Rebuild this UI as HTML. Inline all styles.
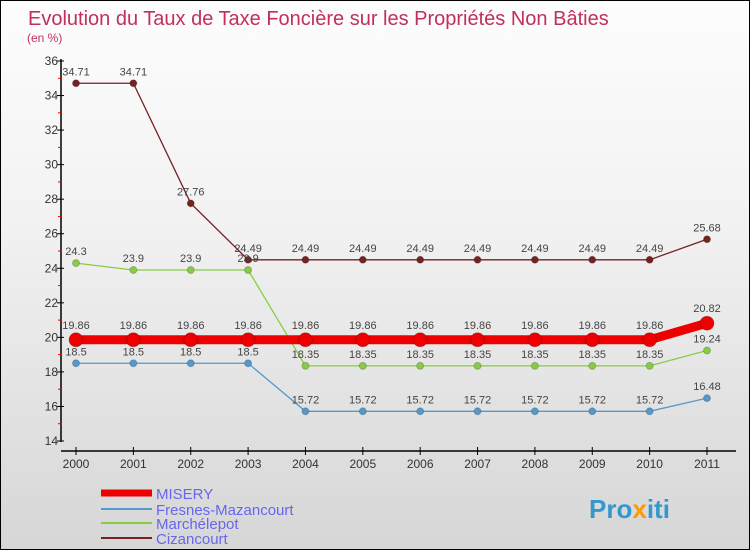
<!DOCTYPE html>
<html><head><meta charset="utf-8"><style>
body{margin:0}
#c{position:relative;width:748px;height:548px;border:1px solid #000;background:linear-gradient(#fdfdfd,#f2f2f2 40%,#d6d6d6);font-family:"Liberation Sans",sans-serif;overflow:hidden}
svg{position:absolute;left:0;top:0}
</style></head><body>
<div id="c">
<svg id="s" width="748" height="548">
<text x="27" y="24" font-size="20" fill="#c0305a">Evolution du Taux de Taxe Foncière sur les Propriétés Non Bâties</text>
<text x="26" y="41" font-size="12" fill="#c0305a">(en %)</text>
<text x="588" y="517" font-size="26" font-weight="bold" fill="#3399cc">Pro<tspan fill="#ff9900">x</tspan>iti</text>
</svg>
</div>
<script>
const years=[2000,2001,2002,2003,2004,2005,2006,2007,2008,2009,2010,2011];
const yTicks=[14,16,18,20,22,24,26,28,30,32,34,36];
const names=["MISERY","Fresnes-Mazancourt","Marchélepot","Cizancourt"];
const colors=["#ee0000","#5599cc","#88cc44","#772222"];
const misery=[19.86,19.86,19.86,19.86,19.86,19.86,19.86,19.86,19.86,19.86,19.86,20.82];
const fresnes=[18.5,18.5,18.5,18.5,15.72,15.72,15.72,15.72,15.72,15.72,15.72,16.48];
const marche=[24.3,23.9,23.9,23.9,18.35,18.35,18.35,18.35,18.35,18.35,18.35,19.24];
const cizan=[34.71,34.71,27.76,24.49,24.49,24.49,24.49,24.49,24.49,24.49,24.49,25.68];
const series=[misery,fresnes,marche,cizan];
const NS="http://www.w3.org/2000/svg",s=document.getElementById('s');
const X=i=>75+i*(706-75)/11, Y=v=>440-(v-14)*(380/22);
function el(t,a,p){const e=document.createElementNS(NS,t);for(const k in a)e.setAttribute(k,a[k]);(p||s).appendChild(e);return e;}
let ax=el('line',{x1:60,y1:58,x2:60,y2:441,stroke:'#000','stroke-width':1.5});


let bx=el('line',{x1:60,y1:450,x2:735,y2:450,stroke:'#000','stroke-width':1.5});


yTicks.forEach((v,i)=>{
 el('line',{x1:56,y1:Y(v),x2:63,y2:Y(v),stroke:'#000'});
 if(i<yTicks.length-1)el('line',{x1:57,y1:Y(v+1),x2:61,y2:Y(v+1),stroke:'#e00'});
 const t=el('text',{x:57,y:Y(v)+4,'font-size':12,'text-anchor':'end',fill:'#333'});t.textContent=v;
 
 
});
years.forEach((y,i)=>{
 el('line',{x1:X(i),y1:446,x2:X(i),y2:454,stroke:'#000'});
 const t=el('text',{x:X(i),y:467,'font-size':12,'text-anchor':'middle',fill:'#333'});t.textContent=y;
 
 
});
for(let k=series.length-1;k>=0;k--){
 const d=series[k],w=k==0?9:1.3,r=k==0?7:3.5;
 const p=el('polyline',{points:d.map((v,i)=>X(i)+','+Y(v)).join(' '),fill:'none',stroke:colors[k],'stroke-width':w});
 
 
 d.forEach((v,i)=>{
  const c=el('circle',{cx:X(i),cy:Y(v),r:r,fill:colors[k],stroke:'#0003'});
  
  
  const t=el('text',{x:X(i),y:Y(v)-8-(k==0?3:0),'font-size':11,'text-anchor':'middle',fill:'#444'});t.textContent=v;
  
  
 });
}
const ly=[492,508,522,537];
names.forEach((n,k)=>{
 const l=el('line',{x1:100,y1:ly[k],x2:151,y2:ly[k],stroke:colors[k],'stroke-width':k==0?7:2});
 
 
 const t=el('text',{x:155,y:ly[k]+6,'font-size':15,fill:'#6666ee'});t.textContent=n;
 
 
});
</script>
</body></html>
